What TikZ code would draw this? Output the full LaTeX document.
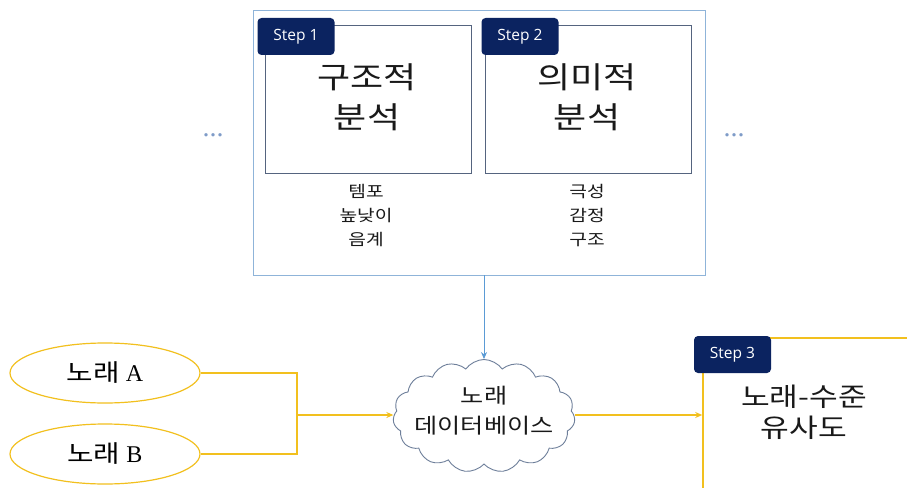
\documentclass[tikz,border=0pt]{standalone}
\usepackage{fontspec}
\setmainfont{Liberation Serif}
\newfontfamily\kr[FakeStretch=1.2]{Noto Sans CJK KR}
\newfontfamily\tagfont{Open Sans}
\usetikzlibrary{shapes.symbols,shapes.geometric,arrows.meta,calc}
\definecolor{navy}{HTML}{0B2360}
\definecolor{outerblue}{HTML}{8FB4D9}
\definecolor{slate}{HTML}{55647F}
\definecolor{gold}{HTML}{F2C01E}
\definecolor{arrowblue}{HTML}{5B9BD5}
\definecolor{cloudline}{HTML}{6E7F9A}
\definecolor{dotcol}{HTML}{7F9CC8}
\begin{document}
\begin{tikzpicture}[x=1pt,y=-1pt,
  stepbox/.style={draw=slate, line width=0.9pt, minimum width=206, minimum height=148, inner sep=0},
  steptag/.style={fill=navy, rounded corners=4pt, minimum width=77, minimum height=37, inner sep=0, text=white, font=\tagfont\fontsize{15.5}{17}\selectfont},
  bigtext/.style={align=center, font=\kr\fontsize{30}{40}\selectfont, text=black!90},
  smalltext/.style={align=center, font=\kr\fontsize{16}{24}\selectfont, text=black!90},
  song/.style={ellipse, draw=gold, line width=1.2pt, minimum width=190, minimum height=60, inner sep=0, font=\fontsize{24}{28}\selectfont},
  yline/.style={draw=gold, line width=1.6pt},
  dots/.style={text=dotcol, font=\fontsize{28}{28}\selectfont}
]
\clip (0,0) rectangle (907,487);
\fill[white] (0,0) rectangle (907,487);
% outer box
\node[draw=outerblue, line width=0.9pt, minimum width=452, minimum height=265, inner sep=0] (outer) at (479,142.5) {};
% step boxes
\node[stepbox] (s1) at (368,99) {};
\node[stepbox] (s2) at (588,99) {};
\node[steptag] (t1) at (296,36.5) {Step 1};
\node[steptag] (t2) at (520,36.5) {Step 2};
\node[bigtext] (b1) at (367,97) {구조적\\분석};
\node[bigtext] (b2) at (587,97) {의미적\\분석};
\node[smalltext] (l1) at (366,216) {템포\\높낮이\\음계};
\node[smalltext] (l2) at (587,216) {극성\\감정\\구조};
\node[dots] (d1) at (213,135) {...};
\node[dots] (d2) at (734,135) {...};
% cloud
\node[cloud, cloud puffs=15, cloud puff arc=110, aspect=1.6, draw=cloudline, line width=0.9pt, minimum width=182, minimum height=113, inner sep=0] (db) at (484,416) {};
\node[align=center, font=\kr\fontsize{21}{30}\selectfont, text=black!90] (dbt) at (484,411) {노래\\데이터베이스};
% songs
\node[song] (a) at (105,373) {{\kr 노래} A};
\node[song] (b) at (105,454) {{\kr 노래} B};
\coordinate (j) at (297,415);
% step 3 box
\node[draw=gold, line width=1.6pt, minimum width=260, minimum height=180, inner sep=0] (s3) at (833,428) {};
\node[steptag] (t3) at (732.5,354.5) {Step 3};
\node[bigtext, font=\kr\fontsize{26}{31}\selectfont] (b3) at (804,412) {노래-수준\\유사도};
% connectors
\draw[draw=arrowblue, line width=0.9pt, -{Stealth[length=7pt,width=6pt]}] (outer.south -| db) -- (db.north);
\draw[yline] (a.east) -- (a.east -| j) -- (b.east -| j) -- (b.east);
\draw[yline, -{Stealth[length=7pt,width=6pt]}] (j) -- (db.west |- j);
\draw[yline, -{Stealth[length=7pt,width=6pt]}] (db.east |- j) -- (s3.west |- j);
\end{tikzpicture}
\end{document}
